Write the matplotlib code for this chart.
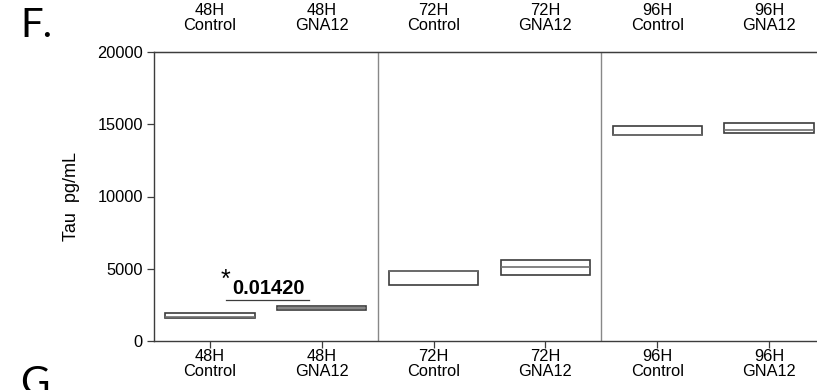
import matplotlib
matplotlib.use("Agg")
import matplotlib.pyplot as plt

# Tau concentration (pg/mL) per group: box bottom, median, box top
groups = ["48H\nControl", "48H\nGNA12", "72H\nControl", "72H\nGNA12", "96H\nControl", "96H\nGNA12"]
q1 = [1580, 2150, 3870, 4540, 14240, 14360]
median = [1650, 2290, 4840, 5090, 14260, 14580]
q3 = [1960, 2410, 4860, 5600, 14880, 15120]
p_value = "0.01420"
y_ticks = [0, 5000, 10000, 15000, 20000]

edge = "#3c3c3c"
label_font = ["Liberation Sans", "DejaVu Sans"]
fs = 11.8

fig = plt.figure(figsize=(8.17, 3.9), dpi=100)
ax = fig.add_axes([154 / 817, (390 - 341) / 390, 671 / 817, (341 - 52) / 390])

x = list(range(len(groups)))
ax.bar(x, [t - b for t, b in zip(q3, q1)], bottom=q1, width=0.8,
       facecolor="white", edgecolor=edge, linewidth=1.2, zorder=3)
ax.hlines(median, [i - 0.4 for i in x], [i + 0.4 for i in x],
          colors="#707070", linewidth=1.2, zorder=4)

# separators between time points
for sx in (1.5, 3.5):
    ax.axvline(sx, color="#888888", linewidth=1.0, zorder=1)

ax.set_xlim(-0.5, 5.5)
ax.set_ylim(0, 20000)
ax.set_yticks(y_ticks)
ax.set_yticklabels([str(v) for v in y_ticks], fontsize=fs, family=label_font)
ax.set_xticks(x)
ax.set_xticklabels(groups, fontsize=fs, family=label_font, linespacing=0.95)
ax.tick_params(axis="x", length=5, width=0.9, color=edge, pad=1)
ax.tick_params(axis="y", length=5, width=0.9, color=edge, pad=3)

# group labels repeated above the plot, without tick marks
top = ax.secondary_xaxis("top")
top.set_xticks(x)
top.set_xticklabels(groups, fontsize=fs, family=label_font, linespacing=0.95)
top.tick_params(length=0, pad=14)
top.spines["top"].set_color(edge)

for side in ("left", "bottom", "top"):
    ax.spines[side].set_color(edge)
    ax.spines[side].set_linewidth(1.0)
ax.spines["right"].set_visible(False)

ax.set_ylabel("Tau  pg/mL", fontsize=13, family=label_font, labelpad=12)

# significance annotation
ax.plot([0.14, 0.885], [2850, 2850], color=edge, linewidth=0.9)
ax.text(0.1, 4200, "*", fontsize=18, family=label_font, ha="left", va="center")
ax.text(0.2, 3600, p_value, fontsize=14.5, fontweight="bold", family=label_font,
        ha="left", va="center")

fig.text(20 / 817, 1 - 37 / 390, "F.", fontsize=29, family=["Lato", "DejaVu Sans"])
fig.text(20 / 817, 1 - 395 / 390, "G.", fontsize=29, family=["Lato", "DejaVu Sans"])

fig.savefig("out.png", dpi=100)
